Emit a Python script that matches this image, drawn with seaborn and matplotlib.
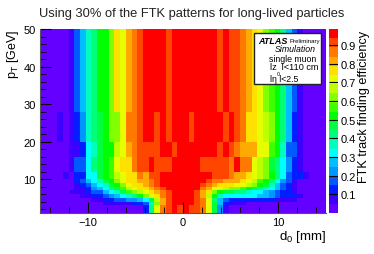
import numpy as np
import pandas as pd
import matplotlib
matplotlib.use("Agg")
import matplotlib.pyplot as plt
from matplotlib.colors import ListedColormap, BoundaryNorm
from matplotlib.patches import Rectangle
import seaborn as sns

# pT bins, top row first, and how many GeV each one spans
pt_widths = [22, 8, 4, 4, 2, 1, 1, 1, 1, 1, 1, 1, 2]

# efficiency in percent, 50 d0 bins from -15 to 15 mm
pt_28_50 = [2,2,2,2,2, 7,17,27,37,42, 52,52,62,76,71, 81,86,91,96,96, 96,96,91,96,96, 96,96,96,96,96, 96,91,96,91,91, 86,81,76,71,62, 57,52,42,27,17, 7,2,2,2,2]
pt_20_28 = [2,2,2,7,2, 7,12,22,37,42, 47,52,62,62,71, 86,86,91,96,96, 91,96,91,96,96, 96,91,96,96,96, 96,96,91,96,91, 86,76,76,71,66, 62,52,42,27,12, 7,2,2,2,2]
pt_16_20 = [2,2,2,2,2, 7,7,12,32,37, 47,52,52,66,71, 81,86,91,91,91, 91,96,96,91,96, 96,96,96,96,96, 96,91,96,91,86, 81,81,81,71,71, 57,52,37,17,17, 7,2,2,2,2]
pt_12_16 = [2,2,2,2,2, 7,17,17,32,42, 47,52,57,71,76, 76,86,91,91,96, 91,91,91,96,96, 96,96,96,91,91, 91,91,91,86,96, 86,86,71,66,62, 47,42,32,22,12, 7,2,2,2,2]
pt_10_12 = [2,2,2,2,7, 2,12,12,32,32, 47,52,57,66,71, 76,76,86,81,91, 91,96,96,96,96, 96,96,96,96,96, 91,91,91,86,81, 81,76,71,66,62, 52,42,32,17,12, 12,7,2,2,2]
pt_9_10 = [2,2,2,2,2, 2,12,17,27,32, 37,47,52,62,71, 76,76,81,81,86, 91,96,96,96,96, 96,96,96,96,91, 86,86,81,81,81, 76,71,66,57,52, 42,32,22,17,7, 2,2,2,2,2]
pt_8_9 = [2,2,2,2,2, 2,7,12,17,27, 32,37,47,52,62, 71,76,76,81,86, 91,96,96,96,96, 96,96,96,91,86, 81,76,76,76,71, 71,66,62,52,47, 37,27,17,12,7, 2,2,2,2,2]
pt_7_8 = [2,2,2,2,2, 2,7,7,12,22, 27,32,42,47,57, 66,71,76,76,81, 86,91,96,96,96, 96,96,96,86,81, 71,71,66,62,62, 57,52,47,42,37, 32,27,17,12,7, 2,2,2,2,2]
pt_6_7 = [2,2,2,2,2, 7,7,7,12,17, 17,27,32,37,47, 57,62,66,71,76, 81,86,91,96,96, 96,96,91,81,76, 62,52,47,47,42, 42,37,32,32,27, 22,17,12,12,7, 2,2,2,2,2]
pt_5_6 = [2,2,2,2,2, 2,2,7,7,12, 12,17,22,27,32, 37,42,52,62,71, 76,86,91,96,96, 96,96,91,81,66, 52,37,32,32,32, 32,32,32,27,27, 22,17,12,12,12, 7,2,2,2,2]
pt_4_5 = [2,2,2,2,2, 2,2,2,2,7, 7,12,12,17,17, 22,22,27,32,47, 66,81,91,96,96, 96,96,91,86,71, 42,27,17,12,12, 12,12,12,12,12, 12,7,7,7,7, 2,2,2,2,2]
pt_3_4 = [2,2,2,2,2, 2,2,2,2,2, 2,7,7,7,7, 7,12,12,17,37, 62,81,91,96,96, 96,96,91,86,71, 47,27,12,7,7, 7,2,2,2,2, 2,2,2,2,2, 2,2,2,2,2]
pt_1_3 = [2,2,2,2,2, 2,2,2,2,2, 2,2,2,2,2, 2,2,2,12,42, 71,86,91,96,91, 96,91,91,86,71, 47,22,7,2,2, 2,2,2,2,2, 2,2,2,2,2, 2,2,2,2,2]

band_colors = ["#6400ff", "#3c00ff", "#001eff", "#005aff", "#0096ff",
               "#00beff", "#00ffff", "#00ffbe", "#00ff78", "#00ff3c",
               "#00ff00", "#3cff00", "#82ff00", "#beff00", "#e6ff00",
               "#ffe100", "#ffaa00", "#ff7800", "#ff4600", "#ff0000"]
bar_ticks = [0.1, 0.2, 0.3, 0.4, 0.5, 0.6, 0.7, 0.8, 0.9]

plt.rcParams['font.family'] = ['Liberation Sans', 'DejaVu Sans']
plt.rcParams['mathtext.default'] = 'regular'

rows = [pt_28_50, pt_20_28, pt_16_20, pt_12_16, pt_10_12, pt_9_10, pt_8_9,
        pt_7_8, pt_6_7, pt_5_6, pt_4_5, pt_3_4, pt_1_3]
eff = pd.DataFrame(np.repeat(np.array(rows) / 100.0, pt_widths, axis=0))

W, H = 374, 255
fig = plt.figure(figsize=(W / 100, H / 100), dpi=100)
ax = fig.add_axes([40 / W, 1 - 214 / H, 286 / W, 184 / H])
cax = fig.add_axes([329 / W, 1 - 214 / H, 9 / W, 184 / H])

levels = np.linspace(0, 0.985, 21)
sns.heatmap(eff, ax=ax, cbar_ax=cax, cmap=ListedColormap(band_colors),
            norm=BoundaryNorm(levels, 20), xticklabels=False, yticklabels=False,
            cbar_kws={'ticks': bar_ticks})

# heatmap axes are in cell numbers, so convert d0 and pT to cells
def d0_cell(v):
    return (np.asarray(v) + 15) / 0.6

def pt_cell(v):
    return 50 - np.asarray(v)

ax.set_xticks(d0_cell([-10, 0, 10]))
ax.set_xticklabels(['\u221210', '0', '10'], fontsize=8)
ax.set_xticks(d0_cell(np.arange(-14, 15, 2)), minor=True)
ax.set_yticks(pt_cell([10, 20, 30, 40, 50]))
ax.set_yticklabels(['10', '20', '30', '40', '50'], fontsize=8, rotation=0)
ax.set_yticks(pt_cell(np.arange(2, 50, 2)), minor=True)
ax.tick_params(axis='both', which='major', direction='in', length=8, width=0.8, pad=3)
ax.tick_params(axis='both', which='minor', direction='in', length=4, width=0.6)
for side in ['left', 'bottom']:
    ax.spines[side].set_visible(True)
    ax.spines[side].set_color('#555555')

cbar = ax.collections[0].colorbar
cbar.outline.set_visible(False)
cbar.minorticks_off()
cax.tick_params(axis='y', length=0, labelsize=8, pad=2)
cax.hlines(bar_ticks, 0, 1, color='black', linewidth=0.8, zorder=5)

fig.text(192 / W, 1 - 14 / H, 'Using 30% of the FTK patterns for long-lived particles',
         ha='center', va='center', fontsize=9.3, color='#222222')
fig.text(326 / W, 1 - 237 / H, 'd$_{0}$ [mm]', ha='right', va='center', fontsize=9.5)
fig.text(13 / W, 1 - 30 / H, 'p$_{T}$ [GeV]', rotation=90, ha='center', va='top', fontsize=9)
fig.text(364 / W, 1 - 31 / H, 'FTK track finding efficiency', rotation=90,
         ha='center', va='top', fontsize=9.1)

# legend box
fig.add_artist(Rectangle((254 / W, 1 - 85 / H), 67 / W, 51 / H, transform=fig.transFigure,
                         facecolor='white', edgecolor='#222222', linewidth=1))
fig.text(258 / W, 1 - 41 / H, 'ATLAS', fontsize=6.5, style='italic', weight='bold', va='center')
fig.text(289 / W, 1 - 41 / H, 'Preliminary', fontsize=4.4, va='center')
fig.text(316 / W, 1 - 50 / H, 'Simulation', fontsize=6.3, style='italic', ha='right', va='center')
fig.text(316 / W, 1 - 59 / H, 'single muon', fontsize=6.3, ha='right', va='center')
fig.text(270 / W, 1 - 68 / H, 'lz  l<110 cm', fontsize=6.6, ha='left', va='center')
fig.text(270 / W, 1 - 80 / H, 'l\u03b7 l<2.5', fontsize=6.3, ha='left', va='center')
fig.text(278 / W, 1 - 74.5 / H, '0', fontsize=3.8, ha='center', va='center')

fig.savefig('out.png', dpi=100)
